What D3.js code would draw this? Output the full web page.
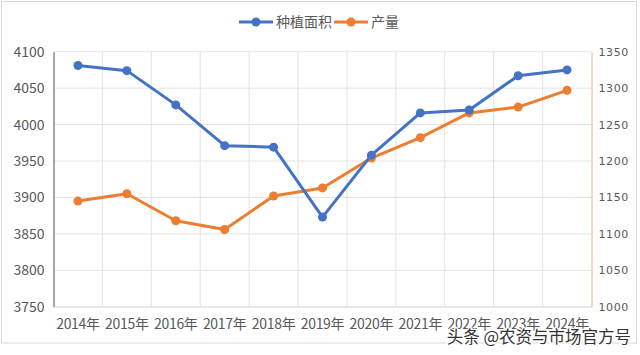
<!DOCTYPE html>
<html><head><meta charset="utf-8">
<script src="https://cdn.jsdelivr.net/npm/d3@7"></script>
<style>html,body{margin:0;padding:0;background:#fff;}svg{display:block;}</style>
</head><body>
<svg id="c" width="640" height="355"></svg>
<script>
const years = ["2014年","2015年","2016年","2017年","2018年","2019年","2020年","2021年","2022年","2023年","2024年"];
const area = [4081, 4074, 4027, 3971, 3969, 3873, 3958, 4016, 4020, 4067, 4075];
const output = [1145, 1155, 1118, 1106, 1152, 1163, 1204, 1232, 1266, 1274, 1297];
const leftTicks = [3750, 3800, 3850, 3900, 3950, 4000, 4050, 4100];
const rightTicks = [1000, 1050, 1100, 1150, 1200, 1250, 1300, 1350];
const seriesNames = ["种植面积", "产量"];
const colors = ["#4472C4", "#ED7D31"];

const svg = d3.select("#c");
const font = "'Noto Sans CJK SC', 'Microsoft YaHei', sans-serif";
const L = 53.5, R = 591.5, T = 51.7, B = 306.7;

svg.append("rect").attr("x",1.5).attr("y",1.5).attr("width",635).attr("height",341.5)
  .attr("fill","#fff").attr("stroke","#d9d9d9").attr("stroke-width",1);

const x = d3.scaleBand().domain(years).range([L, R]).padding(0);
const yL = d3.scaleLinear().domain([3750, 4100]).range([B, T]);
const yR = d3.scaleLinear().domain([1000, 1350]).range([B, T]);

svg.append("g").selectAll("line").data(leftTicks).join("line")
  .attr("x1", L).attr("x2", R).attr("y1", d => yL(d)).attr("y2", d => yL(d))
  .attr("stroke", "#e3e3e3").attr("stroke-width", 1);
svg.append("g").selectAll("line").data(years.slice(1)).join("line")
  .attr("x1", d => x(d)).attr("x2", d => x(d)).attr("y1", T).attr("y2", B)
  .attr("stroke", "#e3e3e3").attr("stroke-width", 1);

const ga = svg.append("g").attr("transform", `translate(${L},0)`)
  .call(d3.axisLeft(yL).tickValues(leftTicks).tickFormat(d3.format("d")).tickSize(0).tickPadding(9));
ga.select(".domain").attr("stroke", "#a6a6b0").attr("stroke-width", 2);
ga.selectAll("text").attr("font-family", font).attr("font-size", 14).attr("fill", "#595959");

const gr = svg.append("g").attr("transform", `translate(${R},0)`)
  .call(d3.axisRight(yR).tickValues(rightTicks).tickFormat(d3.format("d")).tickSize(0).tickPadding(7));
gr.select(".domain").attr("stroke", "#e8c2a2").attr("stroke-width", 1.2);
gr.selectAll("text").attr("font-family", "'DejaVu Sans', sans-serif").attr("font-size", 11)
  .attr("letter-spacing", "0.6px").attr("fill", "#595959");

const gb = svg.append("g").attr("transform", `translate(0,${B})`)
  .call(d3.axisBottom(x).tickSize(0).tickPadding(12));
gb.select(".domain").attr("stroke", "#e3e3e3");
gb.selectAll("text").attr("font-family", font).attr("font-size", 14).attr("letter-spacing", "-0.3px").attr("fill", "#595959");

const cx = d => x(d) + x.bandwidth() / 2;
function drawSeries(vals, yS, color) {
  const line = d3.line().x((d, i) => cx(years[i])).y(d => yS(d));
  svg.append("path").datum(vals).attr("d", line).attr("fill", "none")
    .attr("stroke", color).attr("stroke-width", 3).attr("stroke-linejoin", "round");
  svg.append("g").selectAll("circle").data(vals).join("circle")
    .attr("cx", (d, i) => cx(years[i])).attr("cy", d => yS(d)).attr("r", 4.5).attr("fill", color);
}
drawSeries(output, yR, colors[1]);
drawSeries(area, yL, colors[0]);

const leg = [{x1: 239, x2: 273, tx: 276}, {x1: 334, x2: 368, tx: 371}];
seriesNames.forEach((n, i) => {
  const g = svg.append("g");
  g.append("line").attr("x1", leg[i].x1).attr("x2", leg[i].x2).attr("y1", 22).attr("y2", 22)
    .attr("stroke", colors[i]).attr("stroke-width", 3);
  g.append("circle").attr("cx", (leg[i].x1 + leg[i].x2) / 2).attr("cy", 22).attr("r", 4.5).attr("fill", colors[i]);
  g.append("text").attr("x", leg[i].tx).attr("y", 22).attr("dy", "0.35em")
    .attr("font-family", font).attr("font-size", 14).attr("fill", "#595959").text(n);
});

svg.append("text").attr("x", 631).attr("y", 337).attr("dy", "0.35em").attr("text-anchor", "end")
  .attr("font-family", font).attr("font-size", 16.5).attr("fill", "#333")
  .attr("stroke", "#fff").attr("stroke-width", 2.5).attr("paint-order", "stroke")
  .text("头条 @农资与市场官方号");
</script>
</body></html>
